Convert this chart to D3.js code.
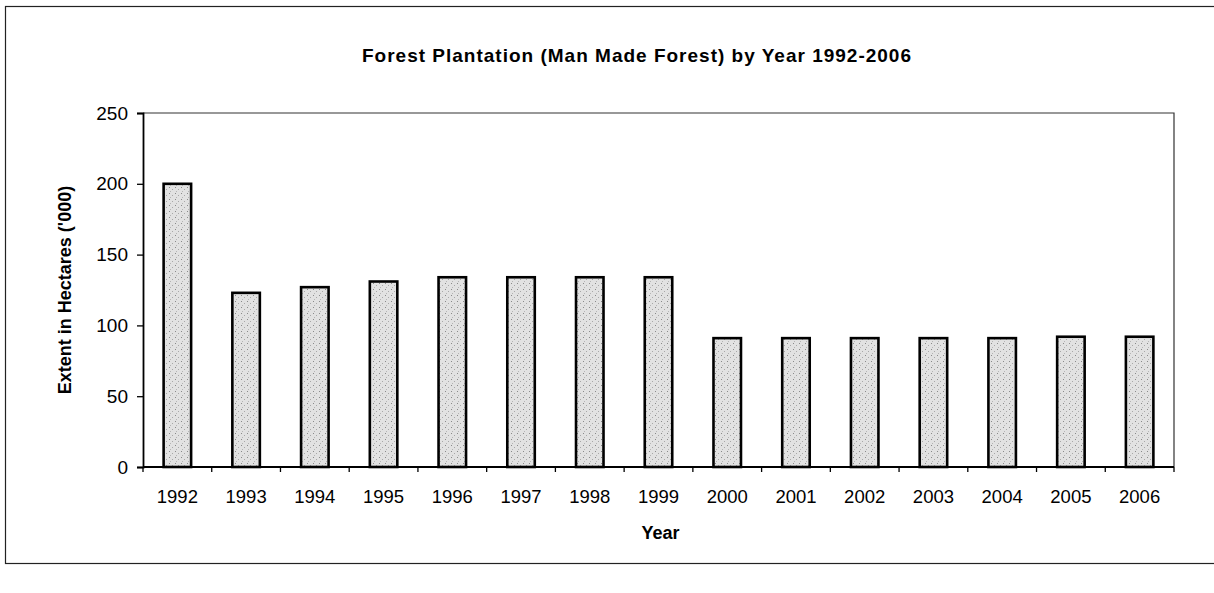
<!DOCTYPE html>
<html>
  <head>
    <meta charset="utf-8">
    <title>Forest Plantation</title>
    <script type="text/javascript" src="https://d3js.org/d3.v7.min.js"></script>
    <style media="screen">
      body { margin: 0; background: #fff; }
      text { font-family: "Liberation Sans", Arial, sans-serif; fill: #000; }
    </style>
  </head>
  <body>

    <script type="text/javascript">

      var years = ['1992', '1993', '1994', '1995', '1996', '1997', '1998', '1999',
                   '2000', '2001', '2002', '2003', '2004', '2005', '2006'];
      var extent = [200, 123, 127, 131, 134, 134, 134, 134, 91, 91, 91, 91, 91, 92, 92];
      var yTicks = [0, 50, 100, 150, 200, 250];

      var w = 1214;
      var h = 593;
      var pLeft = 143, pRight = 1174, pTop = 113, pBottom = 467;

      var dataset = years.map(function(y, i) {
        return { Year: y, Extent: extent[i] };
      });

      var svg = d3.select('body')
        .append('svg')
        .attr('width', w)
        .attr('height', h);

      // stippled fill like the scanned print
      var pat = svg.append('defs').append('pattern')
        .attr('id', 'stipple')
        .attr('patternUnits', 'userSpaceOnUse')
        .attr('width', 6)
        .attr('height', 6);
      pat.append('rect').attr('width', 6).attr('height', 6).attr('fill', '#e2e2e2');
      pat.append('rect').attr('x', 1).attr('y', 1).attr('width', 1).attr('height', 1).attr('fill', '#8a8a8a');
      pat.append('rect').attr('x', 4).attr('y', 3).attr('width', 1).attr('height', 1).attr('fill', '#a8a8a8');
      pat.append('rect').attr('x', 2).attr('y', 5).attr('width', 1).attr('height', 1).attr('fill', '#b5b5b5');

      // outer frame
      svg.append('rect')
        .attr('x', 5.5)
        .attr('y', 6.5)
        .attr('width', 1300)
        .attr('height', 557)
        .attr('fill', 'none')
        .attr('stroke', '#222')
        .attr('stroke-width', 1.2);

      var xscale = d3.scaleBand()
        .domain(years)
        .range([pLeft, pRight])
        .paddingInner(0.6)
        .paddingOuter(0.3);

      var yscale = d3.scaleLinear()
        .domain([0, 250])
        .range([pBottom, pTop]);

      // plot area border (top / right)
      svg.append('path')
        .attr('d', 'M' + pLeft + ',' + pTop + 'H' + pRight + 'V' + pBottom)
        .attr('fill', 'none')
        .attr('stroke', '#333')
        .attr('stroke-width', 1.2);

      svg.selectAll('.bar')
        .data(dataset)
        .enter()
        .append('rect')
        .attr('class', 'bar')
        .attr('x', function(d) { return xscale(d.Year); })
        .attr('y', function(d) { return yscale(d.Extent); })
        .attr('width', xscale.bandwidth())
        .attr('height', function(d) { return pBottom - yscale(d.Extent); })
        .attr('fill', 'url(#stipple)')
        .attr('stroke', '#000')
        .attr('stroke-width', 2.6);

      var yAxis = d3.axisLeft()
        .scale(yscale)
        .tickValues(yTicks)
        .tickSize(6)
        .tickPadding(9);

      var gy = svg.append('g')
        .attr('class', 'y axis')
        .attr('transform', 'translate(' + pLeft + ',0)')
        .call(yAxis);
      gy.select('.domain').attr('stroke-width', 1.8);
      gy.selectAll('.tick line').attr('stroke-width', 1.3);
      gy.selectAll('text')
        .attr('fill', '#000')
        .style('font-size', '19px');

      // x axis: line with ticks on category boundaries
      var gx = svg.append('g').attr('class', 'x axis');
      gx.append('line')
        .attr('x1', pLeft).attr('x2', pRight)
        .attr('y1', pBottom).attr('y2', pBottom)
        .attr('stroke', '#000')
        .attr('stroke-width', 2);
      var step = xscale.step();
      gx.selectAll('.xtick')
        .data(d3.range(years.length + 1))
        .enter()
        .append('line')
        .attr('class', 'xtick')
        .attr('x1', function(i) { return pLeft + i * step; })
        .attr('x2', function(i) { return pLeft + i * step; })
        .attr('y1', pBottom)
        .attr('y2', pBottom + 5)
        .attr('stroke', '#000')
        .attr('stroke-width', 1.3);
      gx.selectAll('.xlabel')
        .data(years)
        .enter()
        .append('text')
        .attr('class', 'xlabel')
        .attr('x', function(d) { return xscale(d) + xscale.bandwidth() / 2; })
        .attr('y', pBottom + 36)
        .attr('text-anchor', 'middle')
        .style('font-size', '18.5px')
        .text(function(d) { return d; });

      svg.append('text')
        .attr('x', 637)
        .attr('y', 62)
        .attr('text-anchor', 'middle')
        .style('font-size', '19px')
        .style('font-weight', 'bold')
        .style('letter-spacing', '1px')
        .text('Forest Plantation (Man Made Forest) by Year 1992-2006');

      svg.append('text')
        .attr('transform', 'translate(71,' + ((pTop + pBottom) / 2) + ')rotate(-90)')
        .attr('text-anchor', 'middle')
        .style('font-size', '18px')
        .style('font-weight', 'bold')
        .text("Extent in Hectares ('000)");

      svg.append('text')
        .attr('x', (pLeft + pRight) / 2 + 2)
        .attr('y', 539)
        .attr('text-anchor', 'middle')
        .style('font-size', '18px')
        .style('font-weight', 'bold')
        .text('Year');

    </script>

  </body>
</html>
